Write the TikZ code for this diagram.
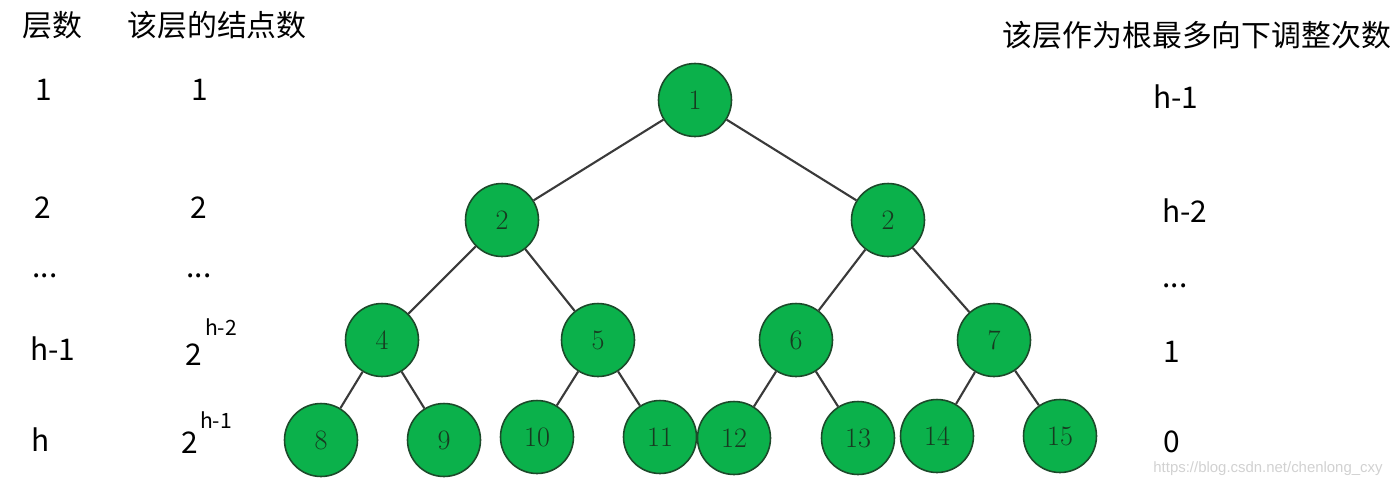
\documentclass[tikz,border=0pt]{standalone}
\usepackage{fontspec}
\usepackage{xcolor}
\usepackage{tikz}
\usetikzlibrary{positioning}
\newfontfamily\cjkfont{Noto Sans CJK SC}
\newfontfamily\markfont{Liberation Sans}
\definecolor{heapgreen}{HTML}{0BB14B}
\definecolor{heapline}{HTML}{1C4A2A}
\definecolor{heaptext}{HTML}{173A20}
\definecolor{linkgray}{HTML}{3A3A3A}

\begin{document}
\begin{tikzpicture}[
   x=0.02cm, y=-0.02cm,
   heap/.style = {circle, draw=heapline, line width=0.9pt, fill=heapgreen,
                  minimum size=1.46cm, inner sep=0pt, text=heaptext,
                  font=\fontsize{16}{16}\selectfont},
   lbl/.style  = {inner sep=0pt, font=\cjkfont\fontsize{17}{20}\selectfont},
   expo/.style = {inner sep=0pt, font=\cjkfont\fontsize{12}{14}\selectfont},
   link/.style = {draw=linkgray, line width=1.2pt}]
  \useasboundingbox (0,0) rectangle (1400,488);

  % column headers
  \node[lbl] (hdlevel) at (52,25)   {层数};
  \node[lbl] (hdcount) at (217,25)  {该层的结点数};
  \node[lbl] (hdadjust) at (1197,35) {该层作为根最多向下调整次数};

  % level column
  \node[lbl] (lv1)  at (44,90)   {1};
  \node[lbl] (lv2)  at (43,208)  {2};
  \node[lbl] (lvd)  at (45,276)  {...};
  \node[lbl] (lvh1) at (53,349)  {h-1};
  \node[lbl] (lvh)  at (41,440)  {h};

  % node count column
  \node[lbl] (nc1)  at (200,90)  {1};
  \node[lbl] (nc2)  at (199,208) {2};
  \node[lbl] (ncd)  at (199,276) {...};
  \node[lbl] (nch1) at (194,355) {2};
  \node[expo] (nch1x) at (221,327) {h-2};
  \node[lbl] (nch)  at (190,443) {2};
  \node[expo] (nchx) at (216,420) {h-1};

  % adjust column
  \node[lbl] (ad1)  at (1176,97)  {h-1};
  \node[lbl] (ad2)  at (1185,211) {h-2};
  \node[lbl] (add)  at (1175,286) {...};
  \node[lbl] (adh1) at (1172,352) {1};
  \node[lbl] (adh)  at (1172,442) {0};

  % heap
  \node[heap] (n1)  at (695,100) {1};
  \node[heap] (n2)  at (502,220) {2};
  \node[heap] (n3)  at (888,220) {2};
  \node[heap] (n4)  at (382,340) {4};
  \node[heap] (n5)  at (598,340) {5};
  \node[heap] (n6)  at (796,340) {6};
  \node[heap] (n7)  at (994,340) {7};
  \node[heap] (n8)  at (321,440) {8};
  \node[heap] (n9)  at (444,440) {9};
  \node[heap] (n10) at (537,437) {10};
  \node[heap] (n11) at (660,437) {11};
  \node[heap] (n12) at (734,438) {12};
  \node[heap] (n13) at (858,438) {13};
  \node[heap] (n14) at (937,436) {14};
  \node[heap] (n15) at (1060,436) {15};

  \foreach \a/\b in {n1/n2, n1/n3, n2/n4, n2/n5, n3/n6, n3/n7,
                     n4/n8, n4/n9, n5/n10, n5/n11, n6/n12, n6/n13, n7/n14, n7/n15}
    \draw[link] (\a) -- (\b);

  \node[inner sep=0pt, text=black!18, font=\markfont\fontsize{8.5}{10}\selectfont]
       (mark) at (1268,469) {https://blog.csdn.net/chenlong\_cxy};
\end{tikzpicture}
\end{document}
